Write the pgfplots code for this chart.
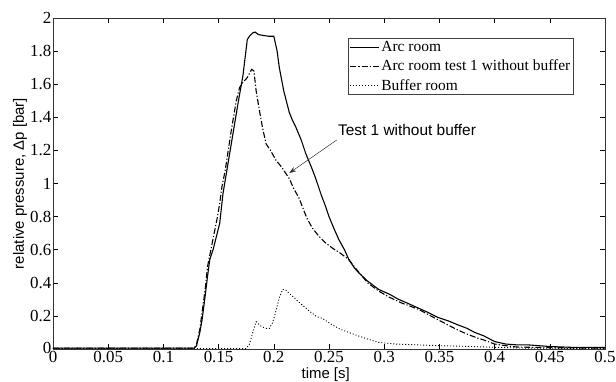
\documentclass[border=0pt]{standalone}
\usepackage{fontspec}
\setmainfont{Liberation Serif}
\newfontfamily\arial{Liberation Sans}
\usepackage{pgfplots}
\pgfplotsset{compat=1.18}
\usetikzlibrary{arrows.meta}
\begin{document}
\begin{tikzpicture}
\begin{axis}[
  scale only axis, width=552bp, height=331bp,
  xmin=0, xmax=0.5, ymin=0, ymax=2,
  xtick={0,0.05,...,0.5}, ytick={0,0.2,...,2},
  xticklabels={0,0.05,0.1,0.15,0.2,0.25,0.3,0.35,0.4,0.45,0.5},
  yticklabels={\raisebox{3bp}{0},0.2,0.4,0.6,0.8,1,1.2,1.4,1.6,1.8,2},
  /pgf/number format/assume math mode=true,
  tick align=inside, major tick length=5bp,
  tick style={black, line width=0.5pt},
  axis line style={black!80, line width=0.7pt},
  ticklabel style={font=\fontsize{17}{20}\selectfont},
  yticklabel style={inner sep=1.5bp},
  xticklabel style={inner sep=2.5bp},
  xlabel={time [s]}, ylabel={relative pressure, Δp [bar]},
  xlabel style={font=\arial\fontsize{15}{18}\selectfont, at={(axis description cs:0.494,-0.057)}, anchor=north, inner sep=0pt},
  ylabel style={font=\arial\fontsize{15}{18}\selectfont, at={(axis description cs:-0.047,0.5)}, anchor=south, inner sep=0pt},
  legend cell align=left,
  legend image code/.code={\draw[#1] (0bp,0bp) -- (29bp,0bp);},
  legend style={at={(rel axis cs:0.944,0.9396)}, anchor=north east, draw=black!75, line width=0.6pt,
    font=\fontsize{15.5}{18}\selectfont, inner xsep=2bp, inner ysep=1.5bp, row sep=4bp,
    nodes={inner sep=1.5bp}},
]
\addplot[black, line width=1.1pt] coordinates {
(0,0.005) (0.05,0.005) (0.1,0.005) (0.128,0.005) (0.130,0.02) (0.133,0.1) (0.135,0.175) (0.138,0.33) (0.140,0.44) (0.142,0.54) (0.145,0.60) (0.148,0.68) (0.151,0.76) (0.154,0.94) (0.158,1.10) (0.163,1.30) (0.168,1.50) (0.172,1.65) (0.174,1.76) (0.176,1.87) (0.178,1.89) (0.181,1.91) (0.183,1.915) (0.186,1.90) (0.190,1.895) (0.195,1.89) (0.200,1.89) (0.203,1.80) (0.205,1.70) (0.209,1.56) (0.214,1.43) (0.217,1.38) (0.220,1.34) (0.225,1.26) (0.229,1.18) (0.234,1.10) (0.238,1.03) (0.243,0.93) (0.247,0.86) (0.250,0.80) (0.255,0.72) (0.259,0.66) (0.264,0.60) (0.268,0.54) (0.273,0.49) (0.277,0.46) (0.285,0.41) (0.295,0.36) (0.305,0.33) (0.313,0.30) (0.320,0.28) (0.330,0.25) (0.340,0.22) (0.349,0.19) (0.358,0.17) (0.367,0.145) (0.375,0.125) (0.382,0.10) (0.390,0.08) (0.400,0.045) (0.41,0.03) (0.42,0.025) (0.43,0.025) (0.44,0.02) (0.45,0.015) (0.47,0.01) (0.5,0.01)
};
\addlegendentry{Arc room}
\addplot[black, line width=1.1pt, dash pattern=on 6bp off 2bp on 1.2bp off 2bp] coordinates {
(0,0.005) (0.05,0.005) (0.1,0.005) (0.128,0.005) (0.130,0.03) (0.133,0.12) (0.135,0.22) (0.138,0.37) (0.140,0.50) (0.143,0.60) (0.146,0.70) (0.149,0.80) (0.151,0.88) (0.153,0.98) (0.156,1.08) (0.161,1.30) (0.166,1.50) (0.169,1.58) (0.172,1.61) (0.176,1.64) (0.180,1.69) (0.182,1.68) (0.184,1.56) (0.187,1.44) (0.190,1.33) (0.193,1.24) (0.197,1.20) (0.202,1.14) (0.207,1.10) (0.211,1.06) (0.214,1.03) (0.218,0.97) (0.223,0.91) (0.227,0.84) (0.230,0.79) (0.235,0.73) (0.241,0.68) (0.247,0.64) (0.253,0.61) (0.260,0.58) (0.268,0.54) (0.275,0.48) (0.285,0.40) (0.295,0.35) (0.304,0.315) (0.315,0.28) (0.331,0.24) (0.345,0.19) (0.355,0.155) (0.365,0.12) (0.375,0.09) (0.385,0.065) (0.39,0.055) (0.40,0.03) (0.41,0.02) (0.42,0.012) (0.45,0.008) (0.5,0.005)
};
\addlegendentry{Arc room test 1 without buffer}
\addplot[black, line width=0.9pt, dash pattern=on 1bp off 2bp] coordinates {
(0,0.003) (0.1,0.003) (0.175,0.003) (0.178,0.03) (0.181,0.10) (0.184,0.165) (0.188,0.14) (0.192,0.125) (0.196,0.125) (0.199,0.16) (0.202,0.23) (0.205,0.31) (0.208,0.36) (0.211,0.355) (0.215,0.33) (0.220,0.30) (0.225,0.27) (0.232,0.23) (0.239,0.195) (0.244,0.185) (0.252,0.15) (0.260,0.12) (0.268,0.10) (0.274,0.085) (0.285,0.06) (0.295,0.04) (0.31,0.03) (0.33,0.025) (0.35,0.02) (0.38,0.015) (0.40,0.01) (0.43,0.005) (0.5,0.003)
};
\addlegendentry{Buffer room}
\draw[black!80, line width=0.5pt, -{Stealth[length=7bp,width=5bp]}] (axis cs:0.257,1.263) -- (axis cs:0.214,1.063);
\node[anchor=west, inner sep=0pt, font=\arial\fontsize{15.5}{18}\selectfont] at (axis cs:0.258,1.323) {Test 1 without buffer};
\end{axis}
\pgfresetboundingbox
\useasboundingbox ([xshift=-53bp,yshift=-33bp]current axis.south west) rectangle ([xshift=11bp,yshift=18bp]current axis.north east);
\end{tikzpicture}
\end{document}
